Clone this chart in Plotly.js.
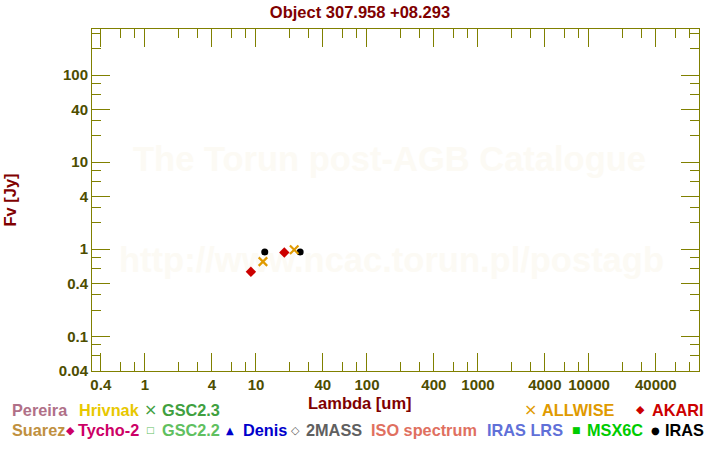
<!DOCTYPE html>
<html><head><meta charset="utf-8">
<script src="https://cdn.plot.ly/plotly-3.0.1.min.js"></script>
<style>html,body{margin:0;padding:0;background:#fff}#chart{width:720px;height:450px}</style>
</head><body><div id="chart"></div>
<script>
// ---- data ----
const chartTitle = 'Object 307.958 +08.293';
const xTitle = 'Lambda [um]';
const yTitle = 'Fv [Jy]';
const akariWave = [9, 18];
const akariFlux = [0.55, 0.915];
const irasWave = [12, 25];
const irasFlux = [0.93, 0.93];
const allwiseWave = [11.56, 22.1];
const allwiseFlux = [0.72, 0.985];

const xTickVals = [0.4, 1, 4, 10, 40, 100, 400, 1000, 4000, 10000, 40000];
const xTickText = ['0.4', '1', '4', '10', '40', '100', '400', '1000', '4000', '10000', '40000'];
const xMinorVals = [0.6, 0.8, 2, 3, 6, 8, 20, 30, 60, 80, 200, 300, 600, 800, 2000, 3000, 6000, 8000, 20000, 30000, 60000, 80000];
const yTickVals = [0.04, 0.1, 0.4, 1, 4, 10, 40, 100];
const yTickText = ['0.04', '0.1', '0.4', '1', '4', '10', '40', '100'];
const yMinorVals = [0.06, 0.08, 0.2, 0.3, 0.6, 0.8, 2, 3, 6, 8, 20, 30, 60, 80, 200, 300];

const legendRow1 = ['Pereira', 'Hrivnak', 'GSC2.3', 'ALLWISE', 'AKARI'];
const legendRow2 = ['Suarez', 'Tycho-2', 'GSC2.2', 'Denis', '2MASS', 'ISO spectrum', 'IRAS LRS', 'MSX6C', 'IRAS'];
const watermarkLines = ['The Torun post-AGB Catalogue', 'http://www.ncac.torun.pl/postagb'];

// ---- layout geometry ----
const W = 720, H = 450;
const M = {l: 92, r: 21, t: 29, b: 79};
const pw = W - M.l - M.r, ph = H - M.t - M.b;
const xRange = [Math.log10(1 / 3), 4.991];
const yRange = [-1.399, 2.529];
const px = x => (x - M.l) / pw;
const py = y => (H - M.b - y) / ph;
const dataX = x => Math.pow(10, xRange[0] + px(x) * (xRange[1] - xRange[0]));
const dataY = y => Math.pow(10, yRange[0] + py(y) * (yRange[1] - yRange[0]));

const FONT = 'Liberation Sans, Arial, Helvetica, sans-serif';
const SYMF = 'DejaVu Sans, sans-serif';
const TITLE_FONT = {family: FONT, size: 16.5, weight: 'bold', color: '#800000'};

const traces = [
  {
    x: [dataX(389.5), dataX(391.5)], y: [dataY(162), dataY(263)],
    text: watermarkLines, mode: 'text', type: 'scatter',
    textfont: {family: FONT, size: 34.5, weight: 'bold', color: '#fcfaf4'},
    textposition: 'middle center', hoverinfo: 'skip', showlegend: false, cliponaxis: false
  },
  {
    name: 'AKARI', x: akariWave, y: akariFlux, mode: 'markers', type: 'scatter',
    marker: {symbol: 'diamond', size: 8, color: '#cc0000'}, showlegend: false
  },
  {
    name: 'IRAS', x: irasWave, y: irasFlux, mode: 'markers', type: 'scatter',
    marker: {symbol: 'circle', size: 7, color: '#000000'}, showlegend: false
  },
  {
    name: 'ALLWISE', x: allwiseWave, y: allwiseFlux, mode: 'markers', type: 'scatter',
    marker: {symbol: 'x-thin-open', size: 8.5, color: '#e09a00', line: {width: 2.2}}, showlegend: false
  }
];

// legend items: [label, colour, symbol, symbol size, symbolX, textX, row y]
const legendStyle = [
  [legendRow1[0], '#b07088', '', 0, 0, 10.5, 410],
  [legendRow1[1], '#e8c800', '', 0, 0, 78, 410],
  [legendRow1[2], '#40a040', '\u00d7', 16, 150.5, 161, 410],
  [legendRow1[3], '#e09a00', '\u00d7', 16, 530, 540.5, 410],
  [legendRow1[4], '#cc0000', '\u25c6', 11, 640.5, 650.5, 410],
  [legendRow2[0], '#c09040', '', 0, 0, 10.5, 430],
  [legendRow2[1], '#cc0066', '\u25c6', 11, 70, 77, 430],
  [legendRow2[2], '#60c060', '\u25a1', 9, 150.5, 161, 430],
  [legendRow2[3], '#0000cc', '\u25b2', 10, 230, 241.5, 430],
  [legendRow2[4], '#606060', '\u25c7', 11, 295, 305, 430],
  [legendRow2[5], '#e07060', '', 0, 0, 370, 430],
  [legendRow2[6], '#6070d8', '', 0, 0, 486, 430],
  [legendRow2[7], '#00cc00', '\u25a0', 9, 576, 586, 430],
  [legendRow2[8], '#000000', '\u25cf', 10, 655, 664, 430]
];

const annotations = [{
  text: xTitle, xref: 'paper', yref: 'paper', x: px(360.3), y: py(403),
  xanchor: 'center', yanchor: 'middle', showarrow: false, borderpad: 0, font: TITLE_FONT
}];
legendStyle.forEach(([label, col, sym, ssz, sx, tx, ry]) => {
  annotations.push({
    text: label, xref: 'paper', yref: 'paper', x: px(tx), y: py(ry),
    xanchor: 'left', yanchor: 'middle', showarrow: false, borderpad: 0,
    font: {family: FONT, size: 16.3, weight: 'bold', color: col}
  });
  if (sym) {
    annotations.push({
      text: sym, xref: 'paper', yref: 'paper', x: px(sx), y: py(ry),
      xanchor: 'center', yanchor: 'middle', showarrow: false, borderpad: 0,
      font: {family: SYMF, size: ssz, color: col}
    });
  }
});

const axisCommon = {
  type: 'log', showgrid: false, zeroline: false,
  showline: true, linecolor: '#808000', linewidth: 1, mirror: 'ticks',
  ticks: 'inside', ticklen: 18, tickwidth: 1, tickcolor: '#808000',
  tickmode: 'array',
  tickfont: {family: FONT, size: 15, weight: 'bold', color: '#4d4d00'}
};

const layout = {
  width: W, height: H, margin: M,
  paper_bgcolor: '#ffffff', plot_bgcolor: '#ffffff',
  showlegend: false,
  title: {text: chartTitle, x: 0.5, xref: 'container', y: 1 - 12 / H, yref: 'container', yanchor: 'middle',
          font: TITLE_FONT},
  xaxis: Object.assign({}, axisCommon, {
    range: xRange, tickvals: xTickVals, ticktext: xTickText,
    minor: {tickmode: 'array', tickvals: xMinorVals, ticks: 'inside', ticklen: 9, tickwidth: 1, tickcolor: '#808000'}
  }),
  yaxis: Object.assign({}, axisCommon, {
    range: yRange, tickvals: yTickVals, ticktext: yTickText,
    minor: {tickmode: 'array', tickvals: yMinorVals, ticks: 'inside', ticklen: 9, tickwidth: 1, tickcolor: '#808000'},
    title: {text: yTitle, standoff: 38, font: TITLE_FONT}
  }),
  annotations: annotations
};

Plotly.newPlot('chart', traces, layout, {staticPlot: true, displayModeBar: false});
</script></body></html>
